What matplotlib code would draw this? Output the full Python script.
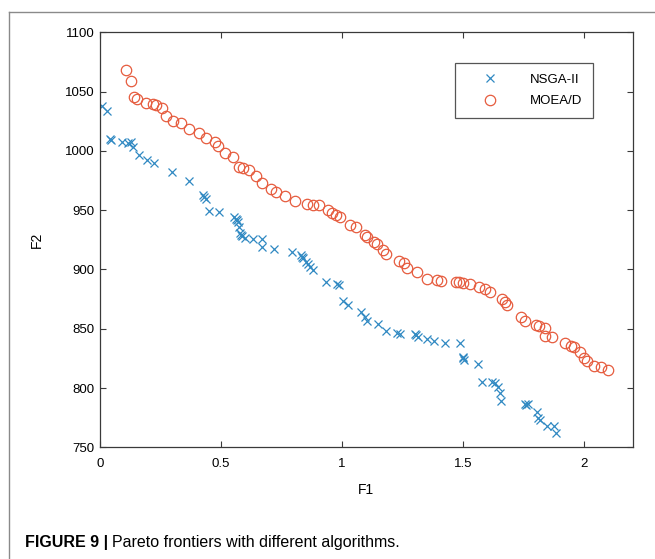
import matplotlib
matplotlib.use('Agg')
import matplotlib.pyplot as plt
from matplotlib.lines import Line2D

plt.rcParams['font.family'] = ['Liberation Sans', 'DejaVu Sans']

# NSGA-II front
nsga_f1 = [0.007, 0.028, 0.041, 0.047, 0.092, 0.117, 0.127, 0.138, 0.162, 0.195,
           0.223, 0.296, 0.368, 0.427, 0.430, 0.437, 0.450, 0.492, 0.554, 0.561,
           0.565, 0.569, 0.574, 0.579, 0.582, 0.585, 0.599, 0.630, 0.671, 0.671,
           0.720, 0.792, 0.829, 0.835, 0.840, 0.851, 0.858, 0.868, 0.881, 0.934,
           0.980, 0.985, 1.005, 1.026, 1.077, 1.095, 1.102, 1.146, 1.182, 1.226,
           1.240, 1.300, 1.305, 1.315, 1.350, 1.380, 1.423, 1.488, 1.499, 1.500,
           1.505, 1.562, 1.577, 1.618, 1.632, 1.645, 1.650, 1.656, 1.756, 1.760,
           1.766, 1.805, 1.807, 1.818, 1.848, 1.873, 1.884]
nsga_f2 = [1037.9, 1033.6, 1009.8, 1009.0, 1007.8, 1006.4, 1007.3, 1003.5, 996.5, 992.3,
           990.1, 982.5, 974.9, 962.5, 961.0, 959.3, 949.6, 948.2, 944.5, 942.6,
           941.5, 940.3, 936.1, 930.5, 929.0, 928.2, 926.3, 925.5, 925.5, 918.7,
           917.3, 914.3, 912.2, 910.5, 909.4, 906.6, 904.5, 902.0, 899.6, 889.3,
           888.1, 886.5, 873.7, 870.1, 863.9, 860.2, 856.6, 853.8, 848.4, 846.2,
           845.6, 845.2, 844.8, 843.3, 841.4, 839.7, 838.3, 838.3, 826.0, 825.0,
           823.4, 820.3, 805.4, 805.4, 804.0, 801.0, 795.5, 789.4, 786.6, 786.0,
           786.6, 780.1, 774.5, 773.1, 768.1, 768.1, 762.4]

# MOEA/D front
moead_f1 = [0.107, 0.128, 0.142, 0.152, 0.190, 0.220, 0.230, 0.255, 0.273, 0.303,
            0.333, 0.368, 0.409, 0.437, 0.475, 0.489, 0.517, 0.548, 0.576, 0.590,
            0.617, 0.643, 0.668, 0.705, 0.726, 0.762, 0.807, 0.853, 0.881, 0.906,
            0.943, 0.957, 0.975, 0.992, 1.033, 1.058, 1.095, 1.104, 1.132, 1.143,
            1.168, 1.182, 1.236, 1.256, 1.267, 1.309, 1.350, 1.391, 1.410, 1.470,
            1.484, 1.500, 1.528, 1.565, 1.591, 1.612, 1.660, 1.674, 1.681, 1.739,
            1.756, 1.802, 1.811, 1.839, 1.839, 1.866, 1.921, 1.945, 1.959, 1.981,
            2.000, 2.011, 2.041, 2.069, 2.096]
moead_f2 = [1068.2, 1058.9, 1045.7, 1043.5, 1040.1, 1039.3, 1038.7, 1035.9, 1029.7, 1025.2,
            1023.8, 1018.2, 1015.3, 1011.1, 1007.3, 1004.4, 998.0, 994.6, 986.7, 985.8,
            983.9, 978.8, 972.7, 967.9, 965.6, 962.1, 957.6, 955.5, 954.4, 954.4,
            950.2, 947.4, 946.0, 944.5, 937.5, 936.1, 929.0, 927.6, 923.4, 921.5,
            916.4, 913.1, 907.4, 905.2, 901.0, 898.1, 892.0, 891.1, 890.4, 889.7,
            889.2, 888.6, 887.8, 885.5, 883.6, 881.3, 874.9, 872.8, 870.1, 860.2,
            856.8, 853.2, 852.6, 850.4, 843.9, 842.8, 837.8, 835.5, 834.4, 830.7,
            825.1, 823.1, 818.6, 818.0, 815.2]

x_ticks = [0, 0.5, 1, 1.5, 2]
x_tick_labels = ['0', '0.5', '1', '1.5', '2']
y_ticks = [750, 800, 850, 900, 950, 1000, 1050, 1100]

blue = '#3089c2'
orange = '#e65c3e'
axis_col = '#3a3a3a'

fig = plt.figure(figsize=(6.55, 5.59), dpi=100)
ax = fig.add_axes([0.1527, 0.1998, 0.8133, 0.7424])

ax.plot(nsga_f1, nsga_f2, linestyle='none', marker='x', markersize=5.5,
        markeredgewidth=0.9, color=blue, label='NSGA-II')
ax.plot(moead_f1, moead_f2, linestyle='none', marker='o', markersize=7.5,
        markeredgewidth=0.9, markerfacecolor='none', markeredgecolor=orange,
        label='MOEA/D')

ax.set_xlim(0, 2.2)
ax.set_ylim(750, 1100)
ax.set_xticks(x_ticks)
ax.set_xticklabels(x_tick_labels)
ax.set_yticks(y_ticks)
ax.tick_params(axis='both', direction='in', length=4, width=0.8, color=axis_col,
               labelsize=9.5, top=True, right=True)
ax.tick_params(axis='x', pad=8)
ax.tick_params(axis='y', pad=4)
for s in ax.spines.values():
    s.set_color(axis_col)
    s.set_linewidth(0.9)

ax.set_xlabel('F1', fontsize=10, labelpad=9)
ax.set_ylabel('F2', fontsize=10, labelpad=15)

leg = ax.legend(loc='upper left', bbox_to_anchor=(0.666, 0.926), borderaxespad=0,
                fontsize=9.5, frameon=True, fancybox=False, framealpha=1,
                edgecolor='#555555', borderpad=0.8, handlelength=3.7,
                handletextpad=1.2, labelspacing=0.7)
leg.get_frame().set_linewidth(0.9)

# page frame lines, top and left
fig.add_artist(Line2D([9 / 655, 1.0], [1 - 12 / 559, 1 - 12 / 559], color='#8a8a8a', linewidth=1.0))
fig.add_artist(Line2D([9 / 655, 9 / 655], [0.0, 1 - 12 / 559], color='#8a8a8a', linewidth=1.0))

# caption: bold part then regular part right after it
cap_y = 1 - 542 / 559
t1 = fig.text(25 / 655, cap_y, 'FIGURE 9 |', fontsize=11.5, fontweight='bold',
              va='center', ha='left')
fig.canvas.draw()
bb = t1.get_window_extent()
fig.text((bb.x1 + 4) / 655, cap_y, 'Pareto frontiers with different algorithms.',
         fontsize=11.5, va='center', ha='left')

fig.savefig('out.png', dpi=100)
